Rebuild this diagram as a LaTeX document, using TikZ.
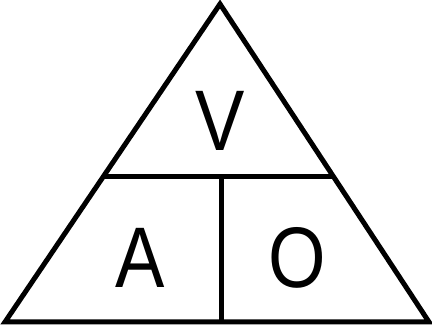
\documentclass[tikz,border=0pt]{standalone}
\usepackage{fontspec}
\setmainfont{Liberation Sans}
\usetikzlibrary{calc}
\begin{document}
\begin{tikzpicture}[x=1pt,y=1pt,
  edge/.style={line width=5pt, line join=miter, black},
  letter/.style={inner sep=0pt, font=\fontsize{86}{90}\selectfont}]
\useasboundingbox (0,0) rectangle (432,329);
\coordinate (top) at (220,325);
\coordinate (bl) at (5,7);
\coordinate (br) at (429,7);
\draw[edge] (top) -- (br) -- (bl) -- cycle;
\coordinate (ml) at ($(top)!0.541!(bl)$);
\coordinate (mr) at ($(top)!0.541!(br)$);
\coordinate (mc) at (221,153);
\coordinate (bc) at (221,7);
\draw[edge] (ml) -- (mr);
\draw[edge] (mc) -- (bc);
\node[letter] (v) at (220,208) {\scalebox{0.86}[1]{V}};
\node[letter] (a) at (140,71) {\scalebox{0.86}[1]{A}};
\node[letter] (o) at (297,71) {\scalebox{0.86}[1]{O}};
\end{tikzpicture}
\end{document}
